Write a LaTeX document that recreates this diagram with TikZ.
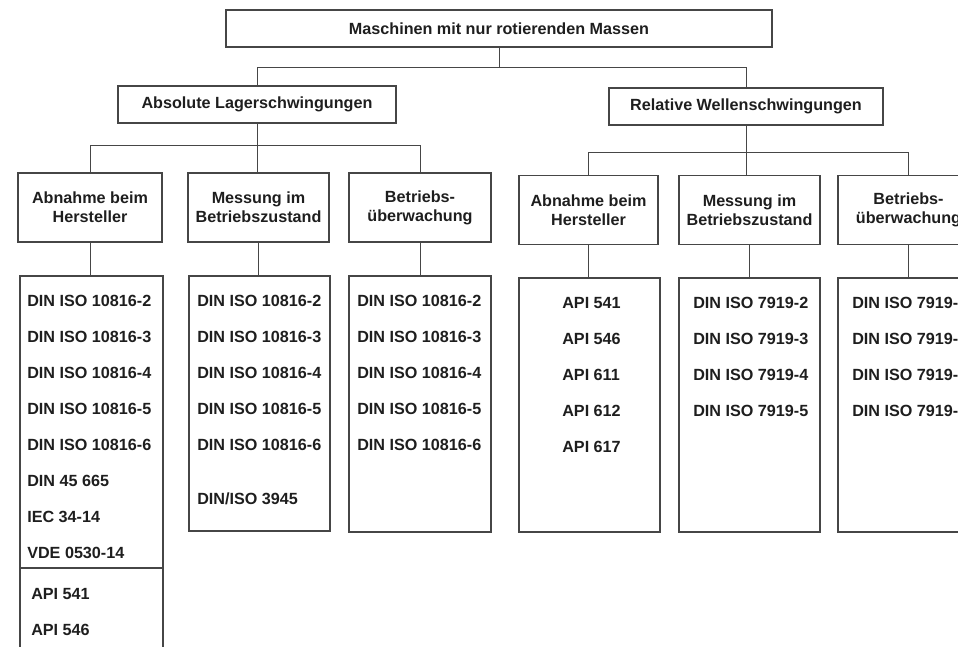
\documentclass[tikz,border=0pt]{standalone}
\usepackage{fontspec}
\setmainfont{Liberation Sans}
\usepackage{xcolor}
\usepackage{tikz}
\usetikzlibrary{positioning, calc}
\definecolor{mydark}{RGB}{30,30,30}
\definecolor{myline}{RGB}{70,70,70}
\tikzset{
  head/.style={rectangle, draw=myline, line width=0.9pt, align=center,
    font=\fontsize{11.5}{13.5}\selectfont\bfseries, text=mydark,
    minimum height=0.925cm, inner sep=0pt},
  sub/.style={head, minimum height=1.725cm},
  list/.style={rectangle, draw=myline, line width=0.9pt, inner sep=0pt},
  entry/.style={anchor=base west, inner sep=0pt,
    font=\fontsize{11.5}{13.5}\selectfont\bfseries, text=mydark},
  line/.style={line width=0.7pt, color=myline}
}

\begin{document}
\begin{tikzpicture}[x=0.025cm, y=-0.025cm]
  \useasboundingbox (0,0) rectangle (958,646);
  \clip (0,0) rectangle (958,646);

  \node[head, minimum width=13.65cm] (top) at (499,28.5) {Maschinen mit nur rotierenden Massen};
  \node[head, minimum width=6.95cm] (abs) at (257,104.5) {Absolute Lagerschwingungen};
  \node[head, minimum width=6.85cm] (rel) at (746,106.5) {Relative Wellenschwingungen};

  \node[sub, minimum width=3.6cm] (a1) at (90,207.5) {Abnahme beim\\Hersteller};
  \node[sub, minimum width=3.525cm] (a2) at (258.5,207.5) {Messung im\\Betriebszustand};
  \node[sub, minimum width=3.55cm] (a3) at (420,207.5) {Betriebs-\\überwachung};
  \node[sub, minimum width=3.475cm] (r1) at (588.5,210) {Abnahme beim\\Hersteller};
  \node[sub, minimum width=3.525cm] (r2) at (749.5,210) {Messung im\\Betriebszustand};
  \node[sub, minimum width=3.525cm] (r3) at (908.5,210) {Betriebs-\\überwachung};

  \node[list, minimum width=3.575cm, minimum height=7.3cm] (l1) at (91.5,422) {};
  \node[list, minimum width=3.575cm, minimum height=2.8cm] (l1b) at (91.5,624) {};
  \node[list, minimum width=3.525cm, minimum height=6.375cm] (l2) at (259.5,403.5) {};
  \node[list, minimum width=3.55cm, minimum height=6.4cm] (l3) at (420,404) {};
  \node[list, minimum width=3.525cm, minimum height=6.35cm] (m1) at (589.5,405) {};
  \node[list, minimum width=3.525cm, minimum height=6.35cm] (m2) at (749.5,405) {};
  \node[list, minimum width=3.525cm, minimum height=6.35cm] (m3) at (908.5,405) {};

  \draw[line] (top.south) -- ++(0,19.5) coordinate (b0);
  \draw[line] (abs.north) |- (b0) -| (rel.north);
  \draw[line] (abs.south) -- ++(0,21.5) coordinate (b1);
  \draw[line] (a1.north) |- (b1) -| (a3.north);
  \draw[line] (b1) -- (b1 |- a2.north);
  \draw[line] (rel.south) -- ++(0,26.5) coordinate (b2);
  \draw[line] (r1.north) |- (b2) -| (r3.north);
  \draw[line] (b2) -- (b2 |- r2.north);

  \foreach \s/\t in {a1/l1, a2/l2, a3/l3, r1/m1, r2/m2, r3/m3}
    \draw[line] (\s.south) -- (\s.south |- \t.north);

  \foreach \t [count=\i] in {DIN ISO 10816-2, DIN ISO 10816-3, DIN ISO 10816-4,
      DIN ISO 10816-5, DIN ISO 10816-6, DIN 45 665, IEC 34-14, VDE 0530-14}
    \node[entry] (l1e\i) at (27,270+36*\i) {\t};
  \node[entry] (l1f1) at (31,599) {API 541};
  \node[entry] (l1f2) at (31,635) {API 546};

  \foreach \i in {1,...,5} {
    \pgfmathtruncatemacro{\n}{\i+1}
    \node[entry] (l2e\i) at (197,270+36*\i) {DIN ISO 10816-\n};
    \node[entry] (l3e\i) at (357,270+36*\i) {DIN ISO 10816-\n};
  }
  \node[entry] (l2e6) at (197,504) {DIN/ISO 3945};

  \foreach \t [count=\i] in {541, 546, 611, 612, 617}
    \node[entry] (m1e\i) at (562,272+36*\i) {API \t};
  \foreach \i in {1,...,4} {
    \pgfmathtruncatemacro{\n}{\i+1}
    \node[entry] (m2e\i) at (693,272+36*\i) {DIN ISO 7919-\n};
    \node[entry] (m3e\i) at (852,272+36*\i) {DIN ISO 7919-\n};
  }
\end{tikzpicture}
\end{document}
